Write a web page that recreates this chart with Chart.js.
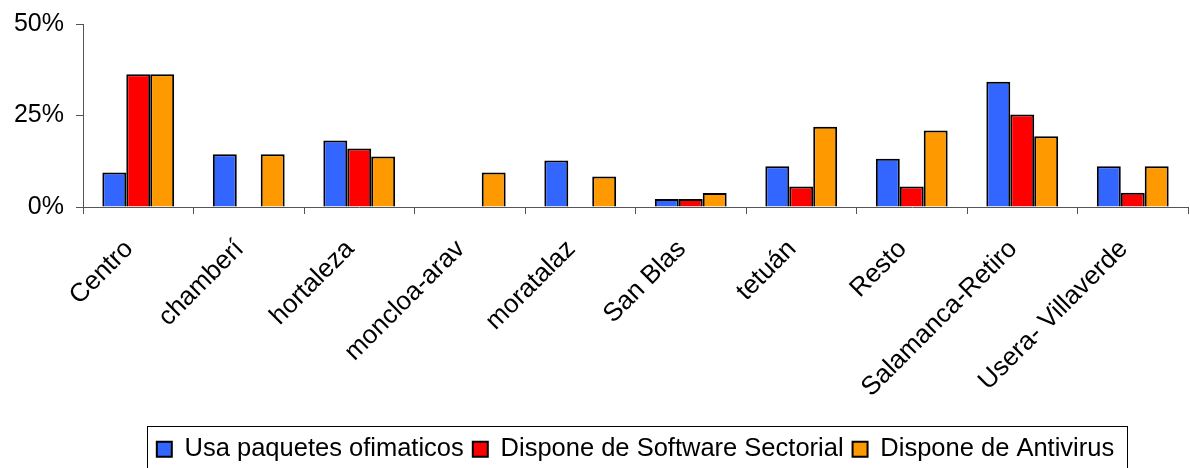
<!DOCTYPE html>
<html>
<head>
  <title>Uso de software por distrito</title>
  <script src="https://cdn.jsdelivr.net/npm/chart.js"></script>
  <style>
    body { margin: 0; background: white; }
    canvas { display: block; }
  </style>
</head>
<body>
<canvas id="distritos" width="1190" height="468"></canvas>

<script>
const distritos = ['Centro', 'chamberí', 'hortaleza', 'moncloa-arav', 'moratalaz', 'San Blas', 'tetuán', 'Resto', 'Salamanca-Retiro', 'Usera- Villaverde'];
const ofimatica = [9.4, 14.4, 18.2, 0, 12.7, 2.2, 11.1, 13.2, 34.2, 11.1];
const sectorial = [36.3, 0, 16.0, 0, 0, 2.2, 5.6, 5.6, 25.3, 3.9];
const antivirus = [36.3, 14.4, 13.8, 9.4, 8.3, 3.8, 21.9, 20.9, 19.3, 11.1];
const yTicks = [0, 25, 50];

const FONT = '"Liberation Sans", Arial, sans-serif';
const AXIS = '#555';

// legend centred under the plot area (not the canvas), framed, bottom edge off-canvas
const legendFrame = {
  id: 'legendFrame',
  afterLayout(chart) {
    const lg = chart.legend, area = chart.chartArea;
    lg.left = area.left;
    lg.right = area.right;
    lg.top += 4;
    lg.bottom += 4;
  },
  afterDraw(chart) {
    const boxes = chart.legend.legendHitBoxes;
    if (!boxes || !boxes.length) return;
    const first = boxes[0], last = boxes[boxes.length - 1];
    const ctx = chart.ctx;
    ctx.save();
    ctx.strokeStyle = '#000';
    ctx.lineWidth = 1;
    const x = Math.round(first.left - 10) + 0.5;
    const y = Math.round(first.top - 11) + 0.5;
    const w = Math.round(last.left + last.width + 13 - first.left + 10);
    ctx.strokeRect(x, y, w, 80);
    ctx.restore();
  }
};

function serie(label, data, color) {
  return { label, data, backgroundColor: color, borderColor: '#000', borderWidth: 2 };
}

new Chart(document.getElementById('distritos'), {
  type: 'bar',
  data: {
    labels: distritos,
    datasets: [
      serie('Usa paquetes ofimaticos', ofimatica, '#3366FF'),
      serie('Dispone de Software Sectorial', sectorial, '#FF0000'),
      serie('Dispone de Antivirus', antivirus, '#FF9900')
    ]
  },
  options: {
    responsive: false,
    animation: false,
    layout: { padding: { top: 24, right: 2, bottom: 0, left: 0 } },
    datasets: { bar: { categoryPercentage: 0.65, barPercentage: 1.0 } },
    plugins: {
      tooltip: { enabled: false },
      legend: {
        position: 'bottom',
        labels: {
          font: { family: FONT, size: 25.5 },
          color: '#000',
          boxWidth: 15,
          boxHeight: 15,
          padding: 9
        }
      }
    },
    scales: {
      x: {
        afterFit(scale) { scale.height = 216.5; },
        border: { display: true, color: AXIS, width: 1 },
        grid: { offset: true, drawOnChartArea: false, drawTicks: true, tickLength: 7, color: AXIS },
        ticks: {
          font: { family: FONT, size: 26 },
          color: '#000',
          minRotation: 45,
          maxRotation: 45,
          autoSkip: false,
          padding: 20,
          labelOffset: -9
        }
      },
      y: {
        min: 0,
        max: 50,
        afterFit(scale) {
          scale.width = 83;
          scale.paddingTop = 0;
          scale.paddingBottom = 0;
        },
        afterBuildTicks(scale) { scale.ticks = yTicks.map(v => ({ value: v })); },
        border: { display: true, color: AXIS, width: 1 },
        grid: { drawOnChartArea: false, drawTicks: true, tickLength: 7, color: AXIS },
        ticks: {
          font: { family: FONT, size: 25 },
          color: '#000',
          padding: 12,
          callback: v => v + '%'
        }
      }
    }
  },
  plugins: [legendFrame]
});
</script>
</body>
</html>
